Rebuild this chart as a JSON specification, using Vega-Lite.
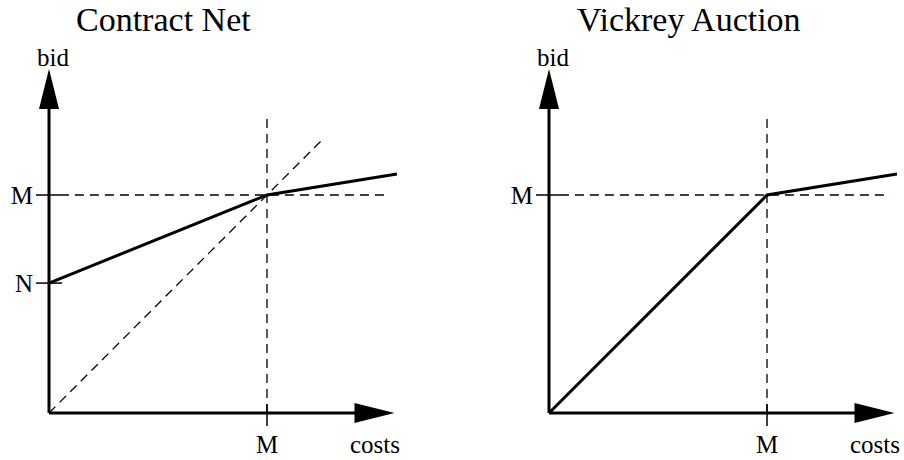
{
  "$schema": "https://vega.github.io/schema/vega-lite/v6.json",
  "padding": {"top": 4, "left": 0, "right": 0, "bottom": 0},
  "background": "white",
  "config": {"view": {"stroke": null}, "text": {"font": "Liberation Serif", "fontSize": 25, "color": "#000"}},
  "spacing": 96,
  "bounds": "flush",
  "datasets": {
    "fig": [
      {"panel": "Contract Net", "kind": "guide", "x": 1, "y": 0, "x2": 1, "y2": 1.372},
      {"panel": "Contract Net", "kind": "guide", "x": 0.05, "y": 1, "x2": 1.555, "y2": 1},
      {"panel": "Contract Net", "kind": "guide", "x": 0, "y": 0, "x2": 1.257, "y2": 1.257},
      {"panel": "Contract Net", "kind": "tick", "x": -0.06, "y": 1, "x2": 0.05, "y2": 1},
      {"panel": "Contract Net", "kind": "tick", "x": -0.06, "y": 0.596, "x2": 0.06, "y2": 0.596},
      {"panel": "Contract Net", "kind": "tick", "x": 1, "y": -0.06, "x2": 1, "y2": 0.04},
      {"panel": "Contract Net", "kind": "axis", "x": 0, "y": 0, "x2": 1.42, "y2": 0},
      {"panel": "Contract Net", "kind": "axis", "x": 0, "y": 0, "x2": 0, "y2": 1.42},
      {"panel": "Contract Net", "kind": "arrowUp", "x": 0, "y": 1.486},
      {"panel": "Contract Net", "kind": "arrowRight", "x": 1.493, "y": 0},
      {"panel": "Contract Net", "kind": "bid", "x": 0, "y": 0.596, "order": 1},
      {"panel": "Contract Net", "kind": "bid", "x": 1, "y": 1, "order": 2},
      {"panel": "Contract Net", "kind": "bid", "x": 1.596, "y": 1.096, "order": 3},
      {"panel": "Contract Net", "kind": "ylab", "x": 0, "y": 1, "label": "M"},
      {"panel": "Contract Net", "kind": "ylab", "x": 0, "y": 0.596, "label": "N"},
      {"panel": "Contract Net", "kind": "xlab", "x": 1, "y": 0, "label": "M"},
      {"panel": "Contract Net", "kind": "xlab", "x": 1.495, "y": 0, "label": "costs"},
      {"panel": "Contract Net", "kind": "ytitle", "x": 0, "y": 1.578, "label": "bid"},
      {"panel": "Vickrey Auction", "kind": "guide", "x": 1, "y": 0, "x2": 1, "y2": 1.372},
      {"panel": "Vickrey Auction", "kind": "guide", "x": 0.05, "y": 1, "x2": 1.564, "y2": 1},
      {"panel": "Vickrey Auction", "kind": "tick", "x": -0.06, "y": 1, "x2": 0.05, "y2": 1},
      {"panel": "Vickrey Auction", "kind": "tick", "x": 1, "y": -0.06, "x2": 1, "y2": 0.04},
      {"panel": "Vickrey Auction", "kind": "axis", "x": 0, "y": 0, "x2": 1.42, "y2": 0},
      {"panel": "Vickrey Auction", "kind": "axis", "x": 0, "y": 0, "x2": 0, "y2": 1.42},
      {"panel": "Vickrey Auction", "kind": "arrowUp", "x": 0, "y": 1.486},
      {"panel": "Vickrey Auction", "kind": "arrowRight", "x": 1.493, "y": 0},
      {"panel": "Vickrey Auction", "kind": "bid", "x": 0, "y": 0, "order": 1},
      {"panel": "Vickrey Auction", "kind": "bid", "x": 1, "y": 1, "order": 2},
      {"panel": "Vickrey Auction", "kind": "bid", "x": 1.596, "y": 1.096, "order": 3},
      {"panel": "Vickrey Auction", "kind": "ylab", "x": 0, "y": 1, "label": "M"},
      {"panel": "Vickrey Auction", "kind": "xlab", "x": 1, "y": 0, "label": "M"},
      {"panel": "Vickrey Auction", "kind": "xlab", "x": 1.495, "y": 0, "label": "costs"},
      {"panel": "Vickrey Auction", "kind": "ytitle", "x": 0, "y": 1.578, "label": "bid"}
    ]
  },
  "hconcat": [
    {
      "width": 404, "height": 420,
      "title": {"text": "Contract Net", "anchor": "start", "frame": "group", "dx": 76, "offset": -24, "baseline": "alphabetic", "font": "Liberation Serif", "fontSize": 34, "fontWeight": "normal", "color": "#000"},
      "data": {"name": "fig"},
      "transform": [{"filter": "datum.panel === 'Contract Net'"}],
      "encoding": {
        "x": {"field": "x", "type": "quantitative", "axis": null, "scale": {"domain": [-0.2248, 1.6284], "nice": false, "zero": false}},
        "y": {"field": "y", "type": "quantitative", "axis": null, "scale": {"domain": [-0.2202, 1.7064], "nice": false, "zero": false}}
      },
      "layer": [
        {"transform": [{"filter": "datum.kind === 'guide'"}], "mark": {"type": "rule", "color": "#000", "strokeWidth": 1.3, "strokeDash": [9, 6]}, "encoding": {"x2": {"field": "x2"}, "y2": {"field": "y2"}}},
        {"transform": [{"filter": "datum.kind === 'tick'"}], "mark": {"type": "rule", "color": "#000", "strokeWidth": 1.5}, "encoding": {"x2": {"field": "x2"}, "y2": {"field": "y2"}}},
        {"transform": [{"filter": "datum.kind === 'axis'"}], "mark": {"type": "rule", "color": "#000", "strokeWidth": 3}, "encoding": {"x2": {"field": "x2"}, "y2": {"field": "y2"}}},
        {"transform": [{"filter": "datum.kind === 'arrowUp'"}], "mark": {"type": "point", "shape": "M0,-1L0.5,1L-0.5,1Z", "size": 1600, "filled": true, "color": "#000", "opacity": 1}},
        {"transform": [{"filter": "datum.kind === 'arrowRight'"}], "mark": {"type": "point", "shape": "M1,0L-1,-0.5L-1,0.5Z", "size": 1600, "filled": true, "color": "#000", "opacity": 1}},
        {"transform": [{"filter": "datum.kind === 'bid'"}], "mark": {"type": "line", "color": "#000", "strokeWidth": 3}, "encoding": {"order": {"field": "order"}}},
        {"transform": [{"filter": "datum.kind === 'ylab'"}], "mark": {"type": "text", "align": "right", "baseline": "alphabetic", "dx": -16, "dy": 9}, "encoding": {"text": {"field": "label"}}},
        {"transform": [{"filter": "datum.kind === 'xlab'"}], "mark": {"type": "text", "align": "center", "baseline": "alphabetic", "dy": 40}, "encoding": {"text": {"field": "label"}}},
        {"transform": [{"filter": "datum.kind === 'ytitle'"}], "mark": {"type": "text", "align": "center", "baseline": "alphabetic", "dx": 4, "dy": -3}, "encoding": {"text": {"field": "label"}}}
      ]
    },
    {
      "width": 404, "height": 420,
      "title": {"text": "Vickrey Auction", "anchor": "start", "frame": "group", "dx": 77, "offset": -24, "baseline": "alphabetic", "font": "Liberation Serif", "fontSize": 34, "fontWeight": "normal", "color": "#000"},
      "data": {"name": "fig"},
      "transform": [{"filter": "datum.panel === 'Vickrey Auction'"}],
      "encoding": {
        "x": {"field": "x", "type": "quantitative", "axis": null, "scale": {"domain": [-0.2248, 1.6284], "nice": false, "zero": false}},
        "y": {"field": "y", "type": "quantitative", "axis": null, "scale": {"domain": [-0.2202, 1.7064], "nice": false, "zero": false}}
      },
      "layer": [
        {"transform": [{"filter": "datum.kind === 'guide'"}], "mark": {"type": "rule", "color": "#000", "strokeWidth": 1.3, "strokeDash": [9, 6]}, "encoding": {"x2": {"field": "x2"}, "y2": {"field": "y2"}}},
        {"transform": [{"filter": "datum.kind === 'tick'"}], "mark": {"type": "rule", "color": "#000", "strokeWidth": 1.5}, "encoding": {"x2": {"field": "x2"}, "y2": {"field": "y2"}}},
        {"transform": [{"filter": "datum.kind === 'axis'"}], "mark": {"type": "rule", "color": "#000", "strokeWidth": 3}, "encoding": {"x2": {"field": "x2"}, "y2": {"field": "y2"}}},
        {"transform": [{"filter": "datum.kind === 'arrowUp'"}], "mark": {"type": "point", "shape": "M0,-1L0.5,1L-0.5,1Z", "size": 1600, "filled": true, "color": "#000", "opacity": 1}},
        {"transform": [{"filter": "datum.kind === 'arrowRight'"}], "mark": {"type": "point", "shape": "M1,0L-1,-0.5L-1,0.5Z", "size": 1600, "filled": true, "color": "#000", "opacity": 1}},
        {"transform": [{"filter": "datum.kind === 'bid'"}], "mark": {"type": "line", "color": "#000", "strokeWidth": 3}, "encoding": {"order": {"field": "order"}}},
        {"transform": [{"filter": "datum.kind === 'ylab'"}], "mark": {"type": "text", "align": "right", "baseline": "alphabetic", "dx": -16, "dy": 9}, "encoding": {"text": {"field": "label"}}},
        {"transform": [{"filter": "datum.kind === 'xlab'"}], "mark": {"type": "text", "align": "center", "baseline": "alphabetic", "dy": 40}, "encoding": {"text": {"field": "label"}}},
        {"transform": [{"filter": "datum.kind === 'ytitle'"}], "mark": {"type": "text", "align": "center", "baseline": "alphabetic", "dx": 4, "dy": -3}, "encoding": {"text": {"field": "label"}}}
      ]
    }
  ]
}
